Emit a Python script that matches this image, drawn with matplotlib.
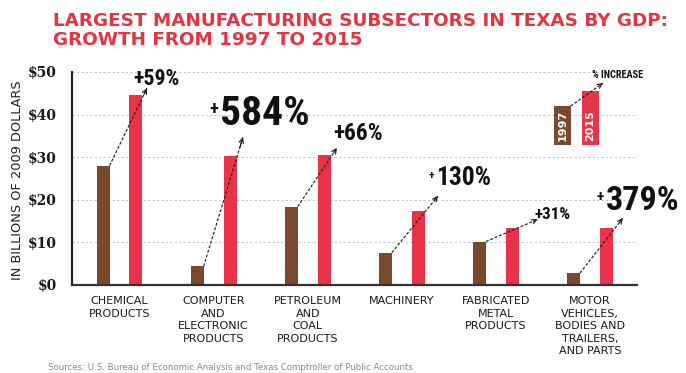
import matplotlib
matplotlib.use("Agg")
import matplotlib.pyplot as plt
from matplotlib import font_manager as fm

# ---------------- data ----------------
categories = ["CHEMICAL\nPRODUCTS",
              "COMPUTER\nAND\nELECTRONIC\nPRODUCTS",
              "PETROLEUM\nAND\nCOAL\nPRODUCTS",
              "MACHINERY",
              "FABRICATED\nMETAL\nPRODUCTS",
              "MOTOR\nVEHICLES,\nBODIES AND\nTRAILERS,\nAND PARTS"]
gdp_1997 = [28.0, 4.4, 18.4, 7.6, 10.2, 2.8]
gdp_2015 = [44.6, 30.3, 30.5, 17.4, 13.4, 13.3]
pct_increase = [59, 584, 66, 130, 31, 379]
big_label = [False, True, False, True, False, True]
yticks = [0, 10, 20, 30, 40, 50]
ytick_labels = ["$0", "$10", "$20", "$30", "$40", "$50"]
legend_years = ["1997", "2015"]

title = "LARGEST MANUFACTURING SUBSECTORS IN TEXAS BY GDP:\nGROWTH FROM 1997 TO 2015"
ylabel = "IN BILLIONS OF 2009 DOLLARS"
source = "Sources: U.S. Bureau of Economic Analysis and Texas Comptroller of Public Accounts"

BROWN = "#7b4a2c"
RED = "#e8334a"
TITLE_RED = "#e63341"

# ---------------- fonts ----------------
names = {f.name for f in fm.fontManager.ttflist}
cond_font = None
for cand in ["Liberation Sans Narrow", "Roboto Condensed", "Open Sans Condensed",
             "DejaVu Sans Condensed"]:
    if cand in names:
        cond_font = cand
        break
if cond_font is None:
    cond_font = "DejaVu Sans"
COND = dict(family=[cond_font, "DejaVu Sans"], fontweight="bold", fontstretch="condensed")

W, H = 686, 373
fig = plt.figure(figsize=(W / 100, H / 100), dpi=100)
fig.patch.set_facecolor("white")
ax = fig.add_axes([72 / W, 88 / H, 565 / W, 213 / H])
ax.set_xlim(-0.505, 5.5)
ax.set_ylim(0, 50)

x = list(range(len(categories)))
off, bw = 0.175, 0.138
xb = [i - off for i in x]
xr = [i + off for i in x]
ax.bar(xb, gdp_1997, width=bw, color=BROWN, zorder=3)
ax.bar(xr, gdp_2015, width=bw, color=RED, zorder=3)

# grid & spines
ax.yaxis.grid(True, color="#c8c8c8", linestyle=(0, (2, 2)), linewidth=0.8)
ax.set_axisbelow(True)
for s in ["top", "right"]:
    ax.spines[s].set_visible(False)
ax.spines["left"].set_color("#222222")
ax.spines["left"].set_linewidth(1.6)
ax.spines["bottom"].set_color("#333333")
ax.spines["bottom"].set_linewidth(1.6)
ax.spines["bottom"].set_zorder(4)

ax.set_yticks(yticks)
ax.set_yticklabels(ytick_labels, fontsize=10, fontweight="bold", family="DejaVu Serif",
                   color="#1a1a1a")
ax.tick_params(axis="y", length=0, pad=11)
ax.set_xticks(x)
ax.set_xticklabels(categories, fontsize=8, linespacing=1.32, color="#1a1a1a")
ax.tick_params(axis="x", length=0, pad=8)

# ---------------- arrows ----------------
tip_dx = [0.117, 0.137, 0.136, 0.21, 0.27, 0.175]
tip_dy = [1.6, 4.4, 1.7, 3.5, 2.0, 2.4]


def dashed_arrow(sx, sy, tx, ty):
    ax.plot([sx, tx], [sy, ty], color="#222222", lw=0.85, linestyle=(0, (2.5, 1.5)),
            zorder=5, clip_on=False)
    bx = tx - 0.08 * (tx - sx)
    by = ty - 0.08 * (ty - sy)
    ax.annotate("", xy=(tx, ty), xytext=(bx, by),
                arrowprops=dict(arrowstyle="->", color="#222222", lw=0.9,
                                shrinkA=0, shrinkB=0, mutation_scale=8),
                zorder=5, annotation_clip=False)


for i in x:
    dashed_arrow(xb[i] + bw / 2, gdp_1997[i], xr[i] + tip_dx[i], gdp_2015[i] + tip_dy[i])

# ---------------- percentage labels ----------------
fig.canvas.draw()
r = fig.canvas.get_renderer()


def fit_w(t, w_px, factor=1.0):
    bb = t.get_window_extent(r)
    t.set_fontsize(t.get_fontsize() * w_px / bb.width * factor)


# (left x, bottom y, target width px) layout for each label
lab_pos = [(0.143, 46.9, 42), (1.07, 37.6, 80), (2.27, 34.0, 45),
           (3.36, 23.5, 49), (4.415, 15.5, 33), (5.17, 17.6, 64)]
lab_factor = [1.1, 1.12, 1.1, 1.12, 1.1, 1.15]
for i, p in enumerate(pct_increase):
    lx, ly, wpx = lab_pos[i]
    if big_label[i]:
        t = ax.text(lx, ly, f"{p}%", ha="left", va="baseline", fontsize=20,
                    color="#111111", clip_on=False, zorder=6, **COND)
        fit_w(t, wpx, lab_factor[i])
        bb = t.get_window_extent(r)
        # small superscript plus
        inv = ax.transData.inverted()
        px, py = inv.transform((bb.x0, bb.y1))
        ax.text(px - 0.02, py - 1.2, "+", ha="right", va="top",
                fontsize=t.get_fontsize() * 0.45, color="#111111",
                clip_on=False, zorder=6, **COND)
    else:
        t = ax.text(lx, ly, f"+{p}%", ha="left", va="baseline", fontsize=14,
                    color="#111111", clip_on=False, zorder=6, **COND)
        fit_w(t, wpx, lab_factor[i])

# ---------------- legend ----------------
leg_x = [4.705, 5.005]
leg_w = 0.18
leg_bottom = 32.9
leg_top = [42.0, 45.5]
ax.bar(leg_x, [leg_top[0] - leg_bottom, leg_top[1] - leg_bottom], width=leg_w,
       bottom=leg_bottom, color=[BROWN, RED], zorder=3)
for lx, lt, yr in zip(leg_x, leg_top, legend_years):
    ax.text(lx, (leg_bottom + lt) / 2 if yr == "1997" else leg_bottom + 4.6, yr,
            rotation=90, ha="center", va="center", color="white", fontsize=8,
            fontweight="bold", zorder=6)
dashed_arrow(leg_x[0] + leg_w / 2, leg_top[0], 5.138, 47.4)
t = ax.text(5.02, 48.6, "% INCREASE", ha="left", va="baseline", fontsize=9,
            color="#111111", clip_on=False, zorder=6, **COND)
fit_w(t, 51)

# ---------------- texts ----------------
tt = fig.text(53 / W, 1 - 12 / H, title, ha="left", va="top", color=TITLE_RED,
              fontsize=12, fontweight="bold", family="DejaVu Sans", linespacing=1.1)
l1 = fig.text(0, 0, title.split("\n")[0], fontsize=12, fontweight="bold",
              family="DejaVu Sans")
w1 = l1.get_window_extent(r).width
l1.remove()
tt.set_fontsize(12 * 616 / w1)

fig.text(18 / W, 1 - 180 / H, ylabel, rotation=90, ha="center", va="center",
         fontsize=9.3, color="#222222")
st = fig.text(48 / W, 1 - 368 / H, source, ha="left", va="center", fontsize=6.5,
              color="#8a8a8a")
fit_w(st, 367)

fig.savefig("out.png", dpi=100, facecolor="white")
